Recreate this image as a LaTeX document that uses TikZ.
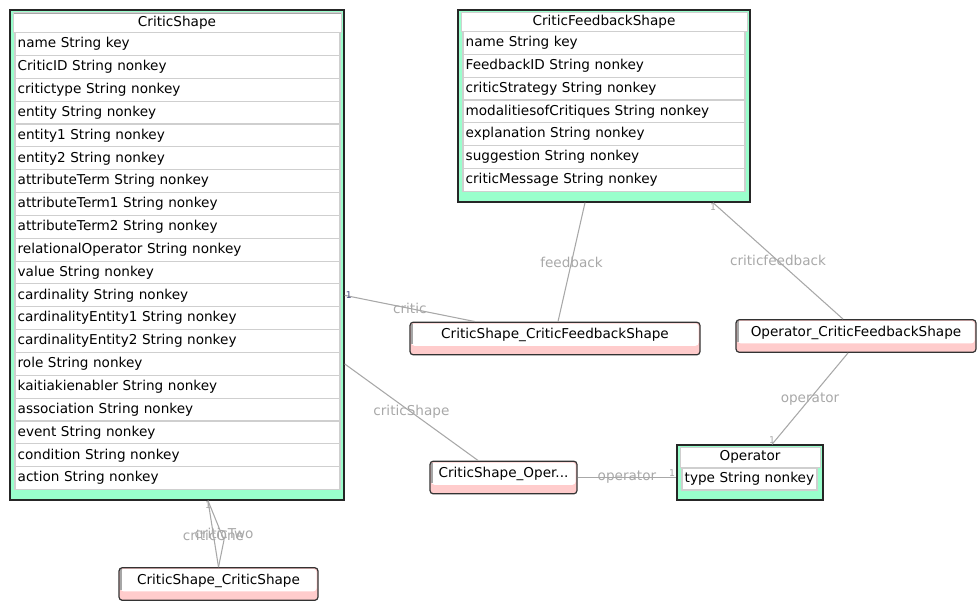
\documentclass[tikz,border=0pt]{standalone}
\usepackage{fontspec}
\setmainfont{DejaVu Sans}

\definecolor{classgreen}{HTML}{99FFCC}
\definecolor{linkpink}{HTML}{FFCCCC}
\definecolor{rowgray}{HTML}{CFCFCF}
\definecolor{linkgray}{HTML}{A8A8A8}
\definecolor{multblue}{HTML}{4A4A80}

\tikzset{
  classbox/.style={draw=black!85, line width=1pt, fill=classgreen, inner sep=0pt},
  classhead/.style={draw=rowgray, fill=white, inner sep=1pt, minimum height=15pt,
    path picture={\draw[gray!70, line width=2pt] (path picture bounding box.south west)
      -- (path picture bounding box.north west) -- (path picture bounding box.north east);}},
  attrow/.style={draw=rowgray, line width=0.8pt, fill=white, inner xsep=2pt, inner ysep=0pt,
    minimum height=17.1pt, text width=#1, align=left},
  linkbox/.style={draw=black!80, line width=0.9pt, rounded corners=2.5pt, fill=linkpink,
    minimum height=24.5pt, text height=7pt, text depth=7pt, inner ysep=1pt,
    path picture={
      \fill[white] ([shift={(1pt,-1pt)}]path picture bounding box.north west)
        rectangle ([shift={(-1pt,6.75pt)}]path picture bounding box.south east);
      \draw[gray!70, line width=1.5pt] ([shift={(1.5pt,-1pt)}]path picture bounding box.north west)
        -- ([shift={(1.5pt,8pt)}]path picture bounding box.south west);}},
  conn/.style={draw=linkgray, line width=0.8pt},
  connlabel/.style={text=linkgray, inner sep=1pt},
  mult/.style={text=linkgray, font=\fontsize{7}{8}\selectfont, inner sep=0.5pt}
}

\begin{document}
\begin{tikzpicture}[x=0.75pt, y=-0.75pt, font=\fontsize{10.2}{12}\selectfont]
\useasboundingbox (0,0) rectangle (977,601);

% classes
\node[classbox, minimum width=250.5pt, minimum height=367.5pt] (cs) at (177,255) {};
\node[classhead, minimum width=246pt] (csh) at (177,22.5) {CriticShape};
\foreach \t [count=\i] in {name String key, CriticID String nonkey, critictype String nonkey,
    entity String nonkey, entity1 String nonkey, entity2 String nonkey, attributeTerm String nonkey,
    attributeTerm1 String nonkey, attributeTerm2 String nonkey, relationalOperator String nonkey,
    value String nonkey, cardinality String nonkey, cardinalityEntity1 String nonkey,
    cardinalityEntity2 String nonkey, role String nonkey, kaitiakienabler String nonkey,
    association String nonkey, event String nonkey, condition String nonkey, action String nonkey}
  \node[attrow=239.75pt] (cs\i) at (177.5,21.15+\i*22.85) {\t};

\node[classbox, minimum width=219pt, minimum height=144pt] (cfs) at (604,106) {};
\node[classhead, minimum width=214.5pt, minimum height=14.25pt] (cfsh) at (604,21.5) {CriticFeedbackShape};
\foreach \t [count=\i] in {name String key, FeedbackID String nonkey, criticStrategy String nonkey,
    modalitiesofCritiques String nonkey, explanation String nonkey, suggestion String nonkey,
    criticMessage String nonkey}
  \node[attrow=207.5pt] (cfs\i) at (604,20.2+\i*22.8) {\t};

\node[classbox, minimum width=109.5pt, minimum height=41.25pt] (op) at (750,472.5) {};
\node[classhead, minimum width=105pt] (oph) at (750,457) {Operator};
\node[attrow=97.25pt, minimum height=16.5pt] (op1) at (749.5,479) {type String nonkey};

% link shapes
\node[linkbox, minimum width=217.5pt] (ccf) at (555,338.5) {CriticShape\_CriticFeedbackShape};
\node[linkbox, minimum width=180pt] (ocf) at (856,336) {Operator\_CriticFeedbackShape};
\node[linkbox, minimum width=110.25pt] (cso) at (503.5,477.5) {CriticShape\_Oper...};
\node[linkbox, minimum width=149.25pt] (csc) at (218.5,584) {CriticShape\_CriticShape};

% connectors
\coordinate (twobend) at (224,540);
\draw[conn] (cs12 -| cs.east) -- node[connlabel] (lcritic) {critic}
  node[mult, at start, anchor=west, text=multblue] (m1) {1} ([xshift=-60pt]ccf.north);
\draw[conn] ([xshift=-14.25pt]cfs.south) -- node[connlabel] (lfeed) {feedback} ([xshift=2.25pt]ccf.north);
\draw[conn] ([xshift=81.75pt]cfs.south) -- node[connlabel] (lcfeed) {criticfeedback}
  node[mult, at start, below] (m2) {1} ([xshift=-9.75pt]ocf.north);
\draw[conn] ([xshift=-6pt]ocf.south) -- node[connlabel] (lop1) {operator}
  node[mult, at end, above] (m3) {1} ([xshift=16.5pt]op.north);
\draw[conn] (cs15 -| cs.east) -- node[connlabel] (lcs) {criticShape} ([xshift=-19pt]cso.north);
\draw[conn] (cso.east) -- node[connlabel] (lop2) {operator}
  node[mult, at end, anchor=south east] (m4) {1} (cso.east -| op.west);
\draw[conn] ([xshift=23.25pt]cs.south) -- node[connlabel, pos=0.52] (lone) {criticOne}
  node[mult, at start, below] (m5) {1} (csc.north);
\draw[conn] ([xshift=23.25pt]cs.south) -- (twobend) node[connlabel, yshift=5pt] (ltwo) {criticTwo} -- (csc.north);
\end{tikzpicture}
\end{document}
